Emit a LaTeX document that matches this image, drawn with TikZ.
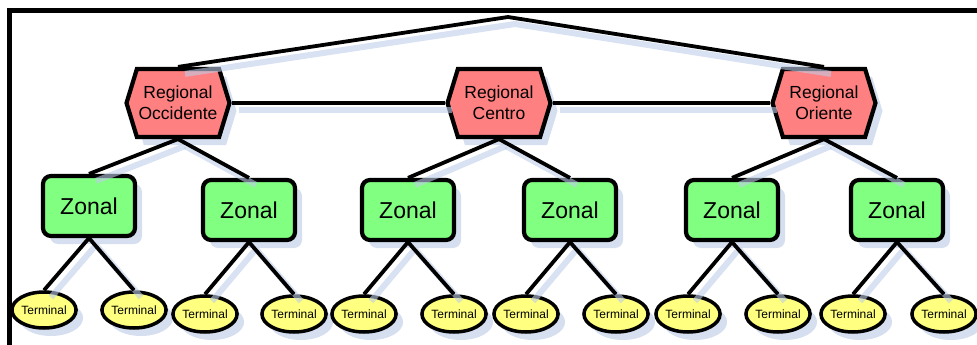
\documentclass[tikz,border=0pt]{standalone}
\usepackage{fontspec}
\setmainfont{Liberation Sans}
\usetikzlibrary{shapes.symbols,shapes.geometric,shadows}

\definecolor{regfill}{RGB}{255,128,128}
\definecolor{zonfill}{RGB}{128,255,128}
\definecolor{terfill}{RGB}{255,255,128}
\definecolor{shadowc}{RGB}{213,223,240}
\definecolor{linkshadow}{RGB}{190,206,234}

\tikzset{
  boxshadow/.style={drop shadow={shadow xshift=7pt,shadow yshift=-8pt,fill=shadowc,opacity=1}},
  regional/.style={signal, signal to=east and west, signal pointer angle=146,
    draw=black, line width=4.2pt, fill=regfill, minimum width=103pt, minimum height=68pt,
    inner sep=0pt, align=center, font=\fontsize{17.5}{21}\selectfont, boxshadow},
  zonal/.style={rectangle, rounded corners=8pt, draw=black, line width=4.2pt, fill=zonfill,
    minimum width=92pt, minimum height=60pt, inner sep=0pt,
    font=\fontsize{23}{26}\selectfont, boxshadow},
  terminal/.style={ellipse, draw=black, line width=3.5pt, fill=terfill,
    minimum width=55pt, minimum height=36pt, inner sep=0pt,
    font=\fontsize{12}{14}\selectfont, boxshadow},
  link/.style={draw=black, line width=3.8pt},
  linkshade/.style={draw=linkshadow, line width=6pt, opacity=0.6},
  frame/.style={draw=black, line width=4.5pt}
}

\newcommand{\shadelink}[2]{\draw[linkshade] ([shift={(7,7)}]#1) -- ([shift={(7,7)}]#2);}

\begin{document}
\begin{tikzpicture}[x=1pt,y=-1pt]
  \useasboundingbox (0,0) rectangle (977,345);
  \begin{scope}
    \clip (0,0) rectangle (977,345);
    \draw[frame] (9.5,10.5) rectangle (1000,370);
  \end{scope}

  % top apex joining the outer regionals
  \coordinate (apex) at (508,17);

  % regional offices
  \node[regional] (occ) at (178,103) {Regional\\Occidente};
  \node[regional] (cen) at (499,103) {Regional\\Centro};
  \node[regional] (ori) at (824,103) {Regional\\Oriente};

  % zonal offices
  \node[zonal] (z1) at (89,206) {Zonal};
  \node[zonal] (z2) at (249,210) {Zonal};
  \node[zonal] (z3) at (408,210) {Zonal};
  \node[zonal] (z4) at (570,210) {Zonal};
  \node[zonal] (z5) at (732,210) {Zonal};
  \node[zonal] (z6) at (897,210) {Zonal};

  % terminals
  \node[terminal] (t1a) at (44,310) {Terminal};
  \node[terminal] (t1b) at (134,310) {Terminal};
  \node[terminal] (t2a) at (205,314) {Terminal};
  \node[terminal] (t2b) at (294,314) {Terminal};
  \node[terminal] (t3a) at (364,314) {Terminal};
  \node[terminal] (t3b) at (454,314) {Terminal};
  \node[terminal] (t4a) at (526,314) {Terminal};
  \node[terminal] (t4b) at (616,314) {Terminal};
  \node[terminal] (t5a) at (688,314) {Terminal};
  \node[terminal] (t5b) at (778,314) {Terminal};
  \node[terminal] (t6a) at (853,314) {Terminal};
  \node[terminal] (t6b) at (944,314) {Terminal};

  % connector shadows
  \draw[linkshade] ([shift={(7,7)}]occ.north) -- ([shift={(7,7)}]apex) -- ([shift={(7,7)}]ori.north);
  \shadelink{occ.east}{cen.west}
  \shadelink{cen.east}{ori.west}
  \shadelink{occ.south}{z1.north}
  \shadelink{occ.south}{z2.north}
  \shadelink{cen.south}{z3.north}
  \shadelink{cen.south}{z4.north}
  \shadelink{ori.south}{z5.north}
  \shadelink{ori.south}{z6.north}
  \foreach \z in {1,...,6}{
    \shadelink{z\z.south}{t\z a.north}
    \shadelink{z\z.south}{t\z b.north}
  }

  % connectors
  \draw[link] (occ.north) -- (apex) -- (ori.north);
  \draw[link] (occ.east) -- (cen.west);
  \draw[link] (cen.east) -- (ori.west);
  \draw[link] (occ.south) -- (z1.north);
  \draw[link] (occ.south) -- (z2.north);
  \draw[link] (cen.south) -- (z3.north);
  \draw[link] (cen.south) -- (z4.north);
  \draw[link] (ori.south) -- (z5.north);
  \draw[link] (ori.south) -- (z6.north);
  \foreach \z in {1,...,6}{
    \draw[link] (z\z.south) -- (t\z a.north);
    \draw[link] (z\z.south) -- (t\z b.north);
  }
\end{tikzpicture}
\end{document}
